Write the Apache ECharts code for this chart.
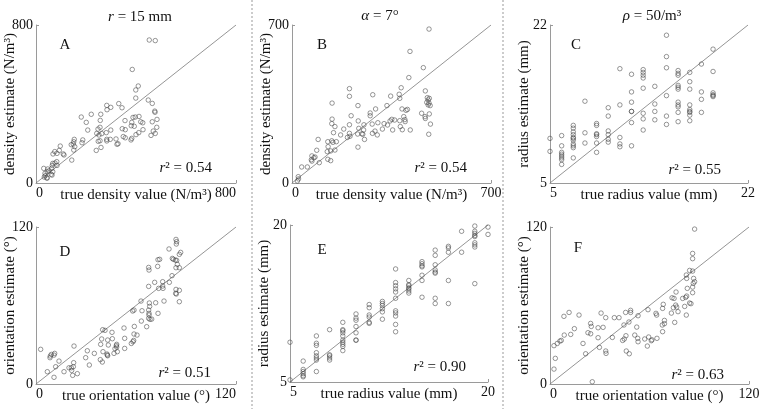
<!DOCTYPE html>
<html>
<head>
<meta charset="utf-8">
<script src="https://cdn.jsdelivr.net/npm/echarts@6/dist/echarts.min.js"></script>
<style>html,body{margin:0;padding:0;background:#fff}#c{width:760px;height:409px}</style>
</head>
<body>
<div id="c"></div>
<script>
// ---------- DATA ----------
// Panel A: r = 15 mm, density (N/m^3)
const aTrue = [453,477,385,409,399,399,449,465,283,299,284,331,344,259,221,181,201,475,476,484,465,388,397,356,383,412,419,427,257,256,248,243,207,281,299,263,252,256,249,241,260,283,283,297,320,328,324,345,357,381,393,349,357,383,380,400,411,428,460,469,477,483,153,151,149,155,151,187,184,141,97,93,75,68,84,112,143,109,83,76,67,65,63,84,67,61,52,47,45,36,37,31,33,44,44,64];
const aEst  = [724,721,575,491,471,430,420,403,393,383,371,402,381,348,348,334,307,364,358,322,310,332,334,316,307,337,310,305,317,282,273,251,268,255,268,250,243,214,211,165,180,221,213,221,223,199,196,275,270,290,287,235,229,226,218,245,255,270,241,263,251,282,221,209,197,184,167,218,204,194,187,165,159,147,150,142,116,147,108,101,99,89,74,89,57,44,62,71,57,49,37,74,30,27,24,40];

// Panel B: alpha = 7 deg, density (N/m^3)
const bTrue = [482,415,462,411,384,469,476,479,483,474,482,479,486,456,468,469,483,487,481,202,202,141,284,347,377,379,334,232,208,275,275,294,387,401,406,393,397,398,379,361,141,140,151,202,233,253,282,302,324,336,351,345,146,171,182,202,204,195,235,231,246,249,252,255,283,292,300,318,354,381,388,416,126,140,144,156,127,124,136,151,87,92,232,70,77,81,68,70,96,126,136,34,54,22,23,19];
const bEst  = [682,583,511,467,422,408,378,368,375,357,354,346,343,309,294,286,306,261,216,418,384,354,391,385,393,375,343,343,298,310,298,328,328,322,326,294,281,272,276,279,283,263,250,258,275,258,261,267,263,257,282,275,223,213,239,220,207,202,242,217,218,216,235,193,220,230,213,239,235,250,236,235,183,187,180,183,161,139,142,146,145,193,159,120,112,115,103,97,90,105,99,71,71,28,18,9];

// Panel C: rho = 50/m^3, radius (mm) — estimates grouped by true radius
const cTrue = [5,6,7,8,9,10,11,12,13,14,15,16,17,18,19];
const cEst = [
  [9.8,8.4],
  [10.1,9.0,8.3,8.1,7.9,7.7,7.5,7.0],
  [11.2,10.9,10.5,10.2,9.9,9.8,9.6,9.2,9.0,8.8,7.7],
  [13.8,10.4,9.3],
  [11.4,11.2,10.3,10.2,10.0,9.3,8.3],
  [13.1,12.2,10.6,10.2,9.7,9.4],
  [17.3,13.4,9.9,9.2,8.9],
  [16.7,14.8,13.7,12.7,12.7,11.5,9.0],
  [17.2,16.9,16.6,16.3,15.2,12.5,11.9,10.7],
  [15.4,13.5,12.7,11.8],
  [20.9,18.6,17.4,14.4,12.2,11.3],
  [17.1,16.8,16.6,15.5,15.3,15.1,13.7,13.4,13.2,12.6,11.6],
  [16.9,15.9,15.1,13.4,12.9,12.7,12.6,12.3,11.7],
  [17.8,14.8,14.0,12.6],
  [19.4,17.0,14.7,14.5,14.4,14.3]
];

// Panel D: r = 15 mm, orientation (deg)
const dTrue = [84.0,84.4,84.2,79.8,86.8,86.0,73.2,74.2,81.8,82.4,83.6,84.4,73.0,67.6,67.8,86.0,84.0,84.8,81.6,76.0,76.0,76.2,80.0,71.2,73.6,67.6,84.0,86.0,83.8,84.2,86.0,76.8,71.8,68.0,68.2,73.2,67.6,67.8,67.8,67.6,69.4,68.4,63.6,63.0,58.0,58.8,63.2,59.0,60.6,58.8,58.6,57.2,58.2,66.4,52.8,53.2,53.2,48.4,48.2,48.4,48.8,47.4,46.8,45.8,45.6,43.0,43.4,42.8,43.0,42.6,40.0,41.4,39.4,38.8,40.2,38.6,39.8,35.0,32.0,30.8,29.8,22.8,22.6,22.4,21.2,19.8,21.4,24.8,22.0,16.8,13.8,11.8,11.2,10.8,9.2,8.6,8.4,2.8,6.8,10.8];
const dEst  = [110.5,108.8,107.0,103.2,100.6,99.1,95.0,95.3,96.0,95.3,94.7,94.5,89.9,89.1,87.1,88.9,88.9,91.4,82.8,78.2,74.9,73.1,77.7,77.7,73.1,74.6,72.3,71.6,69.3,68.8,62.9,63.4,62.1,61.9,59.3,54.0,56.5,54.0,52.7,50.2,49.6,49.4,56.0,63.4,55.8,56.5,48.1,44.0,37.4,38.2,33.3,31.0,32.3,43.8,42.8,34.9,27.2,30.3,29.3,28.2,24.7,27.0,23.4,34.6,39.5,33.6,29.8,22.1,21.6,22.9,41.5,41.0,34.4,30.3,24.7,18.6,16.8,23.4,14.5,25.4,20.1,29.0,16.3,13.2,12.4,12.4,10.4,7.9,6.6,9.4,17.5,13.2,23.4,22.1,22.6,21.4,20.1,26.5,9.4,5.1];

// Panel E: alpha = 7 deg, radius (mm) — estimates grouped by true radius
const eTrue = [5,6,7,8,9,10,11,12,13,14,15,16,17,18,19,20];
const eEst = [
  [8.8,5.2],
  [7.0,6.2,6.0,5.8,5.6,5.5],
  [9.4,8.7,8.5,7.8,7.5,7.3,7.1,6.0],
  [10.0,7.6,7.5,7.3,7.1],
  [10.7,10.0,9.9,9.7,9.4,9.0,8.8,8.6,8.4,8.0],
  [11.5,11.1,10.9,10.3,9.7,9.0,9.0],
  [12.4,12.1,11.4,11.2,10.7,10.6],
  [12.7,12.5,12.3,12.0,11.7,11.0],
  [15.8,14.5,14.2,13.9,13.6,13.0,11.8,11.6,11.3,10.5,9.8],
  [14.7,14.3,14.2,14.0,13.9,13.7,13.5],
  [16.5,16.3,16.1,16.0,15.2,14.7,13.1],
  [17.6,17.1,16.2,15.7,15.5,15.4,13.0,12.5],
  [17.96,17.8,17.4,14.7,12.5],
  [19.4,17.4],
  [19.9,19.4,19.2,19.0,18.9,18.3,18.1,17.9,14.4],
  [19.8,19.1]
];

// Panel F: rho = 50/m^3, orientation (deg)
const fTrue = [87.2,86.0,86.0,86.0,84.2,82.2,82.4,86.6,87.2,86.4,86.0,86.0,82.8,82.4,80.0,81.8,74.8,76.0,73.6,84.2,85.0,75.8,74.4,76.4,73.2,77.2,68.3,67.9,63.9,64.3,69.0,69.0,67.7,67.9,75.2,82.2,81.2,59.1,53.1,48.6,48.6,45.6,44.6,47.6,52.3,52.9,53.1,51.1,45.8,44.8,43.8,61.1,61.5,57.1,58.7,64.5,59.5,46.0,47.8,41.6,38.8,33.6,30.8,32.0,29.0,24.5,24.9,22.9,24.5,29.0,29.8,33.6,33.8,37.6,19.9,21.5,17.5,11.5,8.4,14.7,12.5,8.6,6.8,6.0,4.4,2.4,3.2,2.4,25.5];
const fEst  = [118.4,99.8,95.8,86.3,86.8,83.3,80.7,80.7,78.2,76.9,74.1,69.8,73.1,67.2,65.4,66.2,65.4,70.3,65.9,61.9,61.4,60.3,58.3,58.8,54.2,55.3,60.9,57.8,54.0,52.7,48.6,46.1,45.1,40.0,47.1,52.7,59.3,56.8,52.2,56.3,54.7,54.7,45.1,47.4,43.5,34.9,32.3,37.4,36.9,34.4,33.3,33.1,33.8,34.4,29.0,34.9,35.9,25.2,23.1,50.7,50.7,50.7,54.2,43.3,43.0,46.3,44.0,39.2,38.4,35.4,28.0,25.2,23.4,35.6,31.0,23.1,52.7,54.7,51.7,42.3,37.9,37.4,33.3,32.8,31.0,29.3,19.6,11.4,1.7];

// Axis ranges and labels
const ranges = [[0,800],[0,700],[5,22],[0,120],[5,20],[0,120]];
const xNames = ['true density value (N/m³)','true density value (N/m³)','true radius value (mm)',
                'true orientation value (°)','true radius value (mm)','true orientation value (°)'];
const yNames = ['density estimate (N/m³)','density estimate (N/m³)','radius estimate (mm)',
                'orientation estimate (°)','radius estimate (mm)','orientation estimate (°)'];
const letters = ['A','B','C','D','E','F'];
const r2 = ['0.54','0.54','0.55','0.51','0.90','0.63'];

// ---------- LAYOUT ----------
const FF = '"Liberation Serif","DejaVu Serif","Times New Roman",serif';
const grids = [
  {left:36, top:25, width:200, height:158},
  {left:292, top:25, width:199, height:158},
  {left:550, top:25, width:198, height:158},
  {left:36, top:227, width:200, height:157},
  {left:290, top:225, width:198, height:157},
  {left:550, top:227, width:199, height:157}
];
const maxAlign = ['right','center','center','right','center','center'];

function pairs(xs, ys){ return xs.map((x,i)=>[x, ys[i]]); }
function grouped(xs, groups){ const out=[]; xs.forEach((x,i)=>groups[i].forEach(v=>out.push([x,v]))); return out; }
const datasets = [pairs(aTrue,aEst), pairs(bTrue,bEst), grouped(cTrue,cEst), pairs(dTrue,dEst), grouped(eTrue,eEst), pairs(fTrue,fEst)];

const axisColor = '#9a9a9a';
const xAxes = [], yAxes = [], series = [];
ranges.forEach((r,i)=>{
  const [mn,mx] = r;
  xAxes.push({
    type:'value', gridIndex:i, min:mn, max:mx,
    name:xNames[i], nameLocation:'middle', nameGap:5, nameMoveOverlap:false,
    nameTextStyle:{fontFamily:FF, fontSize:15, color:'#111', verticalAlign:'top'},
    splitLine:{show:false},
    axisLine:{lineStyle:{color:axisColor, width:1}},
    axisTick:{show:true, inside:true, length:3, customValues:[mn,mx], lineStyle:{color:axisColor}},
    axisLabel:{customValues:[mn,mx], margin:3, fontFamily:FF, fontSize:14, color:'#111',
               alignMinLabel:'left', alignMaxLabel:maxAlign[i], showMinLabel:true, showMaxLabel:true}
  });
  yAxes.push({
    type:'value', gridIndex:i, min:mn, max:mx,
    name:yNames[i], nameLocation:'middle', nameGap:18, nameMoveOverlap:false,
    nameTextStyle:{fontFamily:FF, fontSize:15, color:'#111'},
    splitLine:{show:false},
    axisLine:{lineStyle:{color:axisColor, width:1}},
    axisTick:{show:true, inside:true, length:3, customValues:[mn,mx], lineStyle:{color:axisColor}},
    axisLabel:{customValues:[mn,mx], margin:3, fontFamily:FF, fontSize:14, color:'#111',
               showMinLabel:true, showMaxLabel:true}
  });
  series.push({
    type:'line', xAxisIndex:i, yAxisIndex:i, data:[[mn,mn],[mx,mx]],
    symbol:'none', silent:true, lineStyle:{color:'#7a7a7a', width:0.8}, z:1
  });
  series.push({
    type:'scatter', xAxisIndex:i, yAxisIndex:i, data:datasets[i],
    symbol:'circle', symbolSize:4.5, silent:true,
    itemStyle:{color:'rgba(255,255,255,0)', borderColor:'#444', borderWidth:0.7}, z:2
  });
});

const graphic = [];
// dotted separators
[252, 503].forEach(x=>graphic.push({type:'line', shape:{x1:x,y1:0,x2:x,y2:409}, silent:true,
  style:{stroke:'#9a9a9a', lineWidth:1, lineDash:[2,2]}}));
// titles
const titleRich = {i:{fontFamily:FF, fontSize:15, fontStyle:'italic', fill:'#111'}, n:{fontFamily:FF, fontSize:15, fill:'#111'}};
[['{i|r}{n| = 15 mm}',140,17],['{i|α}{n| = 7°}',380,16],['{i|ρ}{n| = 50/m³}',652,16]].forEach(t=>{
  graphic.push({type:'text', x:t[1], y:t[2], silent:true,
    style:{text:t[0], rich:titleRich, align:'center', verticalAlign:'middle', font:'15px '+FF}});
});
// panel letters
const letterPos = [[65,45],[322,45],[576,45],[65,252],[322,250],[578,248]];
letters.forEach((l,i)=>graphic.push({type:'text', x:letterPos[i][0], y:letterPos[i][1], silent:true,
  style:{text:l, fontFamily:FF, fontSize:15, fill:'#111', align:'center', verticalAlign:'middle'}}));
// r^2 labels
const r2Pos = [[212,168],[467,168],[721,170],[211,373],[466,367],[724,375]];
const r2Rich = {i:{fontFamily:FF, fontSize:15, fontStyle:'italic', fill:'#111'}, n:{fontFamily:FF, fontSize:15, fill:'#111'}};
r2.forEach((v,i)=>graphic.push({type:'text', x:r2Pos[i][0], y:r2Pos[i][1], silent:true,
  style:{text:'{i|r}{n|² = '+v+'}', rich:r2Rich, align:'right', verticalAlign:'middle', font:'15px '+FF}}));

const chart = echarts.init(document.getElementById('c'), null, {renderer:'canvas'});
chart.setOption({
  animation:false,
  backgroundColor:'#fff',
  grid: grids.map(g=>Object.assign({containLabel:false, outerBoundsMode:'none'}, g)),
  xAxis: xAxes, yAxis: yAxes, series, graphic
});
</script>
</body>
</html>
